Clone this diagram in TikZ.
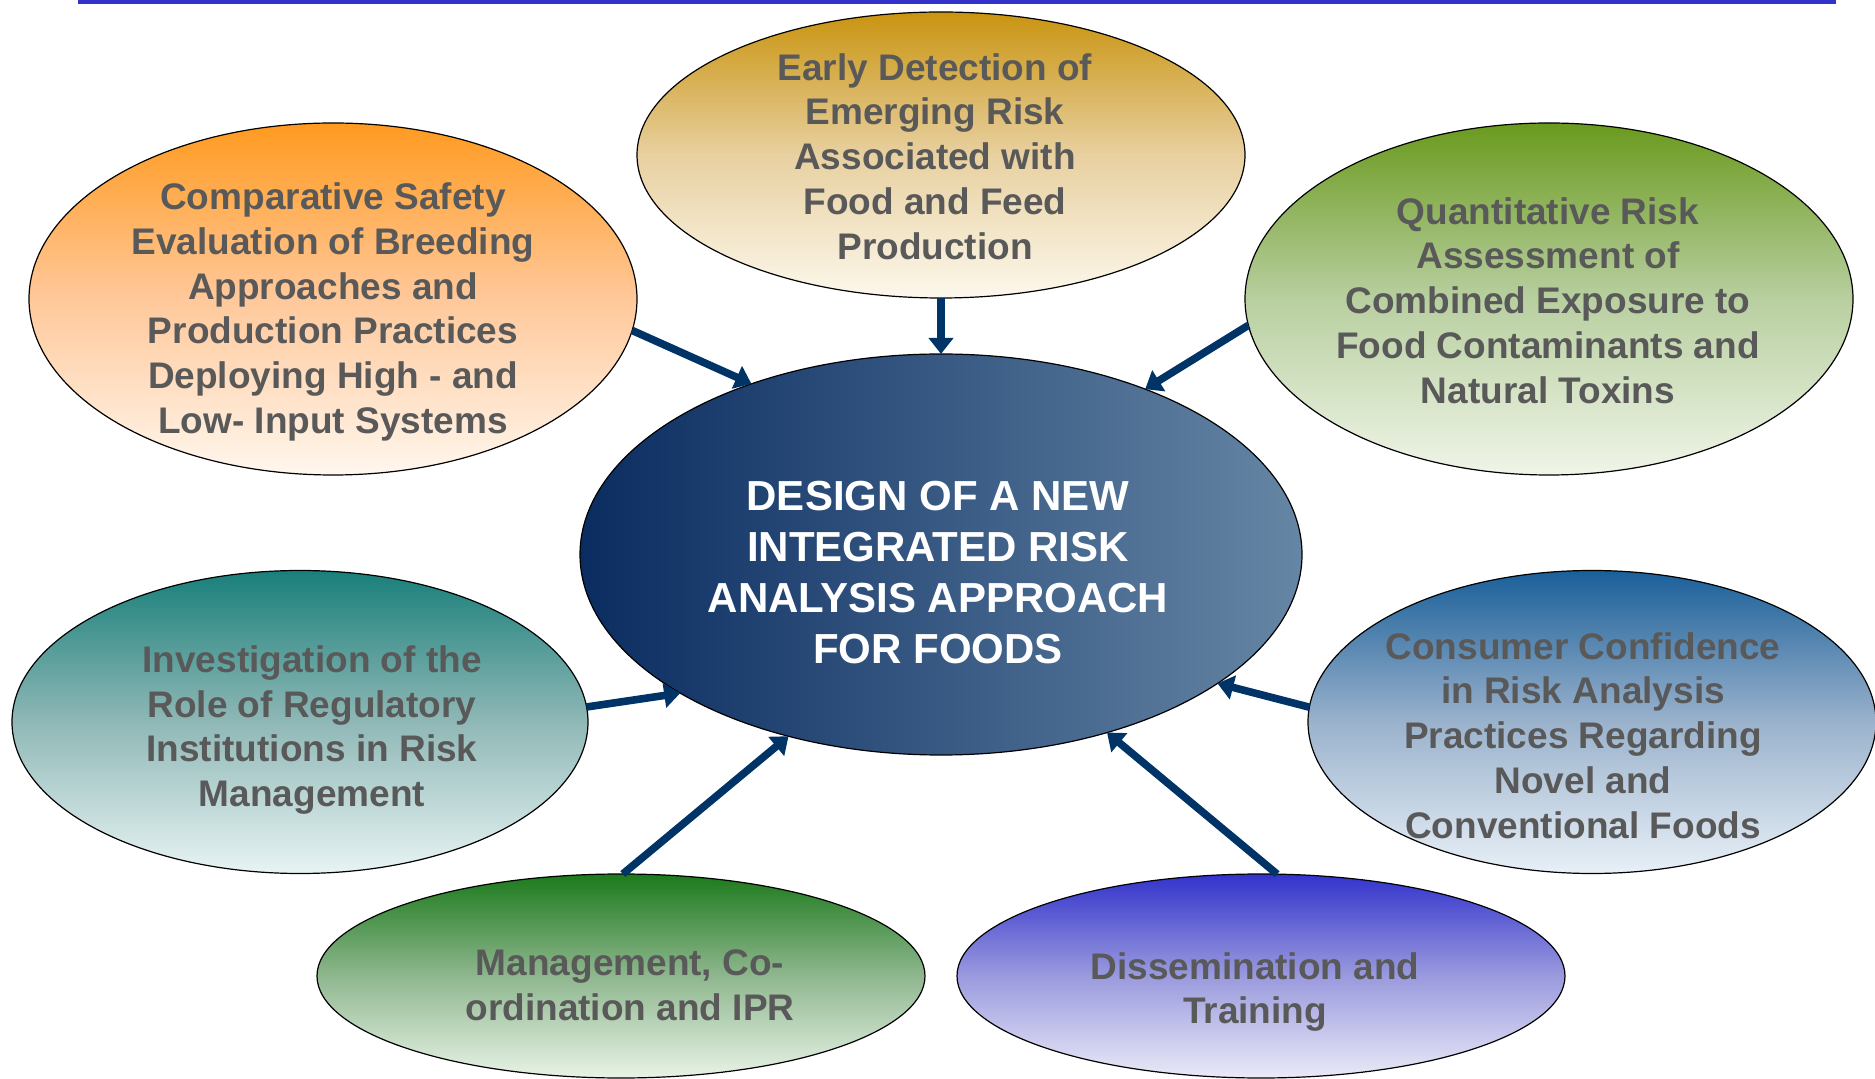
\documentclass[tikz,border=0pt]{standalone}
\usepackage{fontspec}
\setmainfont{Liberation Sans}
\usetikzlibrary{shapes.geometric,arrows.meta}

\definecolor{txtgray}{HTML}{595959}
\definecolor{linkblue}{HTML}{003366}
\definecolor{rulecol}{HTML}{3333CC}

\tikzset{
  bubble/.style={ellipse, draw=black, line width=0.6pt, inner sep=0pt, outer sep=0pt},
  label text/.style={text=txtgray, align=center, font=\fontsize{18.5}{22.4}\selectfont\bfseries},
  link/.style={draw=linkblue, line width=3.8pt, -{Triangle[width=12pt,length=8pt]}}
}

\begin{document}
\begin{tikzpicture}[x=0.5pt, y=-0.5pt]
    % Page frame
    \useasboundingbox (0,0) rectangle (1875,1079);
    \draw[rulecol, line width=1.8pt] (78,1.8) -- (1836,1.8);

    % Central ellipse
    \node[bubble, minimum width=361pt, minimum height=200.5pt,
          left color={rgb,255:red,10;green,44;blue,96}, right color={rgb,255:red,102;green,134;blue,165}]
          (core) at (941,554.5) {};
    \node[align=center, text=white, font=\fontsize{21}{25.5}\selectfont\bfseries]
          (core-t) at (938,572.5) {DESIGN OF A NEW\\INTEGRATED RISK\\ANALYSIS APPROACH\\FOR FOODS};

    % Surrounding work packages
    \node[bubble, minimum width=304pt, minimum height=143pt,
          top color={rgb,255:red,201;green,148;blue,16}, bottom color={rgb,255:red,252;green,248;blue,236},
          middle color={rgb,255:red,232;green,208;blue,160}]
          (early) at (941,155) {};
    \node[label text] (early-t) at (935,156.5)
          {Early Detection of\\Emerging Risk\\Associated with\\Food and Feed\\Production};

    \node[bubble, minimum width=304pt, minimum height=176pt,
          top color={rgb,255:red,255;green,154;blue,31}, bottom color={rgb,255:red,255;green,247;blue,238},
          middle color={rgb,255:red,255;green,200;blue,154}]
          (breed) at (333,299) {};
    \node[label text] (breed-t) at (333,312)
          {Comparative Safety\\Evaluation of Breeding\\Approaches and\\Production Practices\\Deploying High - and\\Low- Input Systems};

    \node[bubble, minimum width=304pt, minimum height=176pt,
          top color={rgb,255:red,106;green,154;blue,30}, bottom color={rgb,255:red,240;green,245;blue,232},
          middle color={rgb,255:red,184;green,207;blue,160}]
          (quant) at (1549,299) {};
    \node[label text] (quant-t) at (1548,300.5)
          {Quantitative Risk\\Assessment of\\Combined Exposure to\\Food Contaminants and\\Natural Toxins};

    \node[bubble, minimum width=288pt, minimum height=151.5pt,
          top color={rgb,255:red,25;green,127;blue,122}, bottom color={rgb,255:red,232;green,244;blue,244},
          middle color={rgb,255:red,143;green,184;blue,182}]
          (regul) at (300,722) {};
    \node[label text] (regul-t) at (312,730)
          {Investigation of the\\Role of Regulatory\\Institutions in Risk\\Management};

    \node[bubble, minimum width=284pt, minimum height=151.5pt,
          top color={rgb,255:red,26;green,95;blue,153}, bottom color={rgb,255:red,232;green,240;blue,247},
          middle color={rgb,255:red,154;green,178;blue,204}]
          (consum) at (1592,722) {};
    \node[label text] (consum-t) at (1583,735.5)
          {Consumer Confidence\\in Risk Analysis\\Practices Regarding\\Novel and\\Conventional Foods};

    \node[bubble, minimum width=304pt, minimum height=102pt,
          top color={rgb,255:red,28;green,122;blue,28}, bottom color={rgb,255:red,232;green,243;blue,230},
          middle color={rgb,255:red,143;green,183;blue,143}]
          (manage) at (621,976) {};
    \node[label text] (manage-t) at (630,985.5)
          {Management, Co-\\ordination and IPR};

    \node[bubble, minimum width=304pt, minimum height=102pt,
          top color={rgb,255:red,51;green,51;blue,204}, bottom color={rgb,255:red,234;green,234;blue,248},
          middle color={rgb,255:red,154;green,154;blue,222}]
          (dissem) at (1261,976) {};
    \node[label text] (dissem-t) at (1255,992)
          {Dissemination and\\Training};

    % Arrows into the core
    \draw[link] (breed.-6) -- (core.138);
    \draw[link] (early.-90) -- (core.90);
    \draw[link] (quant.-175.5) -- (core.39.5);
    \draw[link] (regul.3) -- (core.-152);
    \draw[link] (consum.177) -- (core.-25);
    \draw[link] (manage.89.5) -- (core.-130.5);
    \draw[link] (dissem.81) -- (core.-47.7);

\end{tikzpicture}
\end{document}
